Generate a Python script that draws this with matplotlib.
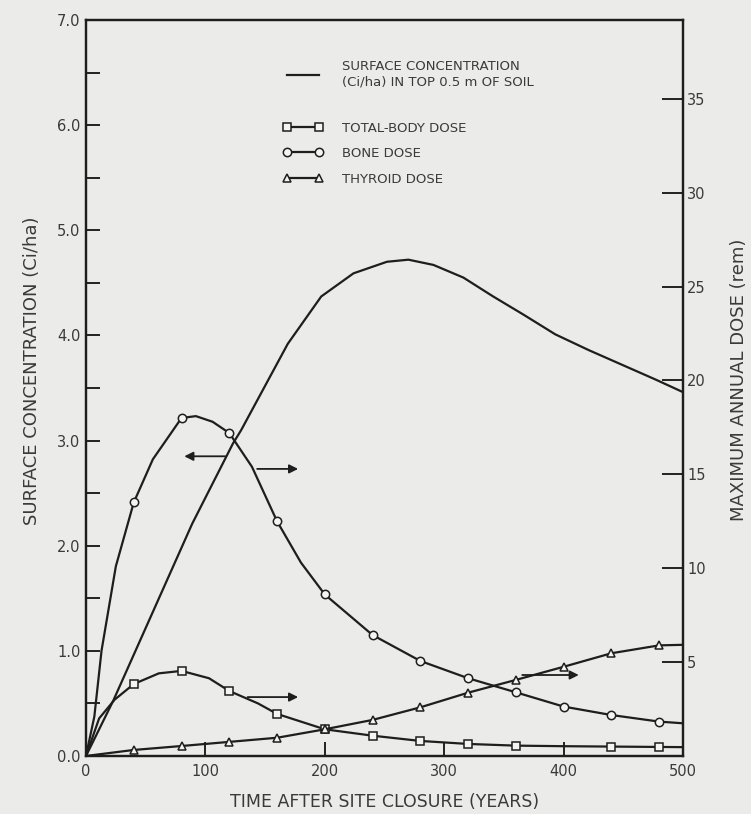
import numpy as np
import matplotlib.pyplot as plt

# surface concentration (Ci/ha), left axis
surf_years = [0, 23, 89, 123, 130, 169, 197, 224, 252, 270, 291, 316, 341, 366, 393, 421, 449, 477, 500]
surf_conc = [0.0, 0.53, 2.21, 2.97, 3.10, 3.92, 4.37, 4.59, 4.70, 4.72, 4.67, 4.55, 4.37, 4.20, 4.01, 3.86, 3.72, 3.58, 3.46]

# doses (rem), right axis
bone_years = [0, 7, 13, 25, 40, 56, 80, 92, 106, 120, 139, 160, 180, 200, 240, 280, 320, 360, 400, 440, 480, 500]
bone_dose = [0.0, 2.1, 5.6, 10.1, 13.5, 15.8, 18.0, 18.1, 17.8, 17.2, 15.4, 12.5, 10.3, 8.6, 6.44, 5.06, 4.14, 3.39, 2.63, 2.18, 1.83, 1.74]

tb_years = [0, 11, 24, 40, 61, 80, 103, 120, 144, 160, 200, 240, 280, 320, 360, 400, 440, 480, 500]
tb_dose = [0.0, 2.0, 3.0, 3.83, 4.4, 4.53, 4.14, 3.46, 2.8, 2.24, 1.42, 1.08, 0.80, 0.64, 0.55, 0.52, 0.50, 0.48, 0.47]

thy_years = [0, 40, 80, 120, 160, 200, 240, 280, 320, 360, 400, 440, 480, 500]
thy_dose = [0.0, 0.32, 0.53, 0.75, 0.97, 1.42, 1.92, 2.59, 3.37, 4.05, 4.75, 5.47, 5.89, 5.92]

# arrows: (start, end) in (years, Ci/ha)
arrows = [((119, 2.85), (80, 2.85)),
          ((141, 2.73), (180, 2.73)),
          ((133, 0.56), (180, 0.56)),
          ((363, 0.77), (415, 0.77))]

ink = '#1e1e1e'
paper = '#ebebe9'
txt = '#3a3a3a'


def marks(years, skip=()):
    return [i for i, y in enumerate(years) if y > 0 and y % 40 == 0 and y not in skip]


fig = plt.figure(figsize=(7.51, 8.14), dpi=100, facecolor=paper)
ax = fig.add_axes([0.1145, 0.0713, 0.795, 0.9042], facecolor=paper)
ax2 = ax.twinx()

h1, = ax.plot(surf_years, surf_conc, color=ink, lw=1.6)
style = dict(color=ink, lw=1.6, markersize=6, markerfacecolor='#f4f4f2', markeredgewidth=1.1)
h2, = ax2.plot(tb_years, tb_dose, marker='s', markevery=marks(tb_years, skip=(400,)), **style)
h3, = ax2.plot(bone_years, bone_dose, marker='o', markevery=marks(bone_years), **style)
h4, = ax2.plot(thy_years, thy_dose, marker='^', markevery=marks(thy_years), **style)

for start, end in arrows:
    ax.annotate('', xy=end, xytext=start,
                arrowprops=dict(arrowstyle='-|>', color=ink, lw=1.3, mutation_scale=13))

ax.set_xlim(0, 500)
ax.set_ylim(0, 7.0)
ax2.set_ylim(0, 39.2)

ax.set_xticks([0, 100, 200, 300, 400, 500])
ax.set_yticks(np.arange(0, 7.01, 1.0))
ax.set_yticks(np.arange(0.5, 7.0, 1.0), minor=True)
ax.set_yticklabels(['%.1f' % v for v in np.arange(0, 7.01, 1.0)])
ax2.set_yticks([5, 10, 15, 20, 25, 30, 35])

ax.tick_params(axis='y', which='both', direction='in', length=10, width=1.2,
               labelsize=10.5, labelcolor=txt, pad=4, right=False)
ax.tick_params(axis='x', direction='in', length=10, width=1.2,
               labelsize=10.5, labelcolor=txt, pad=6, top=False)
ax2.tick_params(axis='y', direction='in', length=15, width=1.2,
                labelsize=10.5, labelcolor=txt, pad=3)

for a in (ax, ax2):
    for s in a.spines.values():
        s.set_linewidth(1.6)
        s.set_color(ink)

ax.set_xlabel('TIME AFTER SITE CLOSURE (YEARS)', fontsize=12.5, color=txt)
ax.set_ylabel('SURFACE CONCENTRATION (Ci/ha)', fontsize=13, color=txt)
ax2.set_ylabel('MAXIMUM ANNUAL DOSE (rem)', fontsize=13, color=txt)
ax.yaxis.set_label_coords(-0.075, 0.524)
ax2.yaxis.set_label_coords(1.078, 0.511)
ax.xaxis.set_label_coords(0.5, -0.05)

leg_kw = dict(loc='upper left', frameon=False, numpoints=2, handlelength=3.0,
              handletextpad=1.5, fontsize=9.5, borderpad=0, borderaxespad=0)
leg1 = ax2.legend([h1], ['SURFACE CONCENTRATION\n(Ci/ha) IN TOP 0.5 m OF SOIL'],
                  bbox_to_anchor=(0.33, 0.945), **leg_kw)
ax2.add_artist(leg1)
leg2 = ax2.legend([h2, h3, h4], ['TOTAL-BODY DOSE', 'BONE DOSE', 'THYROID DOSE'],
                  bbox_to_anchor=(0.33, 0.862), labelspacing=0.95, **leg_kw)
for lg in (leg1, leg2):
    for t in lg.get_texts():
        t.set_color(txt)

fig.savefig('out.png', dpi=100, facecolor=paper)
